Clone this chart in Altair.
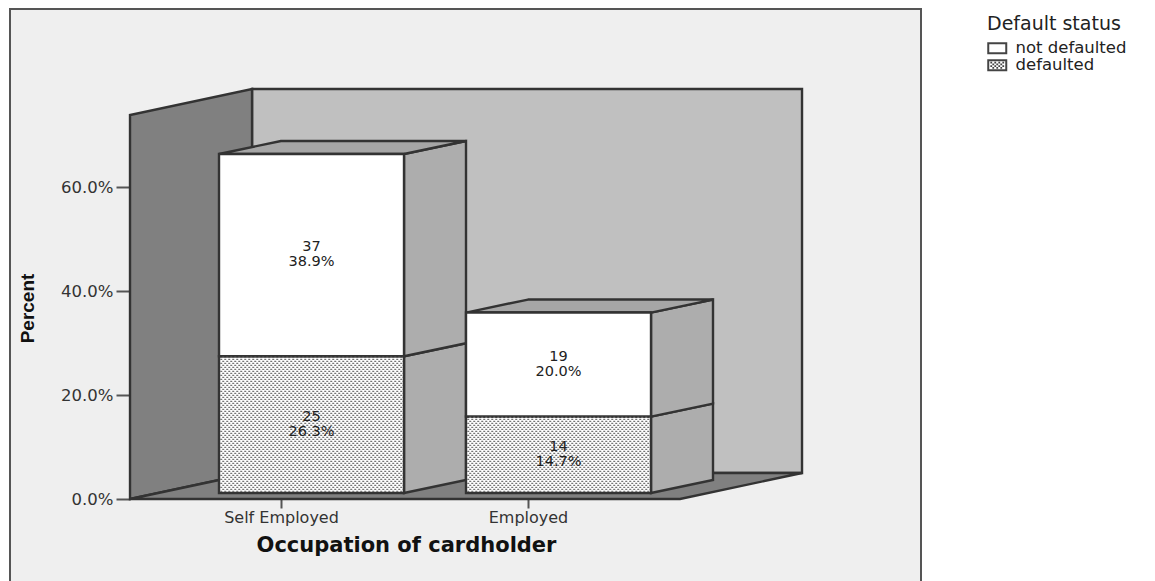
import altair as alt
import numpy as np
import pandas as pd

categories = ["Self Employed", "Employed"]
defaulted_pct = [26.3, 14.7]
not_defaulted_pct = [38.9, 20.0]
defaulted_n = [25, 14]
not_defaulted_n = [37, 19]
y_ticks = [0, 20, 40, 60]
x_ticks = [0.5, 1.5]
bar_left = [0.2490, 1.2490]
status = ["not defaulted", "defaulted"]

# Scene description, in axis units (x: categories, y: percent)
BAR_W = 0.749
BAR_DX, BAR_DY = 0.251, 2.5
BASE = 1.154
FLOOR_L, FLOOR_R = -0.1113, 2.1154
WALL_DX, WALL_DY = 0.494, 5.0
WALL_TOP = 73.85
WALL_COL, SIDE_COL, TOP_COL, BACK_COL = "#808080", "#adadad", "#a6a6a6", "#c0c0c0"
EDGE = "#333333"
EDGE_W = 2.4

vert, horiz, fronts, texts = [], [], [], []


def vq(name, x0, x1, lo0, hi0, lo1, hi1, col):
    vert.append(dict(id=name, x=x0, y=lo0, y2=hi0, c=col))
    vert.append(dict(id=name, x=x1, y=lo1, y2=hi1, c=col))


def hq(name, y0, y1, x00, x01, x10, x11, col):
    horiz.append(dict(id=name, y=y0, x=x00, x2=x01, c=col))
    horiz.append(dict(id=name, y=y1, x=x10, x2=x11, c=col))


vq("wall", FLOOR_L, FLOOR_L + WALL_DX, 0, WALL_TOP, WALL_DY, WALL_TOP + WALL_DY, WALL_COL)
hq("floor", 0, WALL_DY, FLOOR_L, FLOOR_R, FLOOR_L + WALL_DX, FLOOR_R + WALL_DX, WALL_COL)

for i in range(2):
    l, r = bar_left[i], bar_left[i] + BAR_W
    y0 = BASE
    y1 = y0 + defaulted_pct[i]
    y2 = y1 + not_defaulted_pct[i]
    vq(f"s{i}a", r, r + BAR_DX, y0, y1, y0 + BAR_DY, y1 + BAR_DY, SIDE_COL)
    vq(f"s{i}b", r, r + BAR_DX, y1, y2, y1 + BAR_DY, y2 + BAR_DY, SIDE_COL)
    hq(f"t{i}", y2, y2 + BAR_DY, l, r, l + BAR_DX, r + BAR_DX, TOP_COL)
    fronts.append(dict(x=l, x2=r, y=y0, y2=y1, status=status[1]))
    fronts.append(dict(x=l, x2=r, y=y1, y2=y2, status=status[0]))
    texts.append(dict(x=(l + r) / 2, y=(y0 + y1) / 2, n=str(defaulted_n[i]), p=f"{defaulted_pct[i]:.1f}%"))
    texts.append(dict(x=(l + r) / 2, y=(y1 + y2) / 2, n=str(not_defaulted_n[i]), p=f"{not_defaulted_pct[i]:.1f}%"))

# stipple texture of the "defaulted" segments: dashed rows
rows = []
for f in fronts:
    if f["status"] == status[1]:
        for j, yy in enumerate(np.arange(f["y"] + 0.3, f["y2"] - 0.1, 2 / 5.2)):
            rows.append(dict(x=f["x"] + 0.005, x2=f["x2"] - 0.005, y=float(yy), odd=j % 2))
rows = pd.DataFrame(rows)


# Legend swatches (symbol box is -1..1 = 12 px): frame, the second with stipple dots inside
def px(v):
    return f"{v / 6:.3f}"


FRAME = (
    f"M{px(-8)},-1H{px(12)}V1H{px(-8)}Z"
    f"M{px(-6)},{px(-4)}V{px(4)}H{px(10)}V{px(-4)}Z"
)
dots = ""
for k, dy in enumerate([-2.7, -0.9, 0.9, 2.7]):
    for dx in ([-4, 0, 4, 8] if k % 2 == 0 else [-2, 2, 6]):
        dots += (
            f"M{px(dx - 0.9)},{px(dy - 0.9)}H{px(dx + 0.9)}"
            f"V{px(dy + 0.9)}H{px(dx - 0.9)}Z"
        )
SWATCHES = [FRAME, FRAME + dots]

xs = alt.Scale(domain=[-0.5972, 3.0911], nice=False, zero=False)
ys = alt.Scale(domain=[-15.96, 94.231], nice=False, zero=False)
FONT = "DejaVu Sans"

x_axis = alt.Axis(
    values=x_ticks, title="Occupation of cardholder", grid=False, domain=False, offset=-83,
    labelExpr=f"datum.value < 1 ? '{categories[0]}' : '{categories[1]}'",
    tickSize=9, tickWidth=2, tickColor="#555555", labelPadding=1,
    labelFont=FONT, labelFontSize=16, labelColor="#333333",
    titleFont=FONT, titleFontSize=21, titleFontWeight="bold", titleColor="#111111",
    titleX=396, titleY=46, titleBaseline="middle", titleAnchor="middle", titleAlign="center",
)
y_axis = alt.Axis(
    values=y_ticks, title="Percent", grid=False, domain=False, offset=-120,
    labelExpr="format(datum.value, '.1f') + '%'",
    tickSize=14, tickWidth=2, tickColor="#555555", labelPadding=3,
    labelFont=FONT, labelFontSize=16.5, labelColor="#333333",
    titleFont="Liberation Sans", titleFontSize=19, titleFontWeight="bold", titleColor="#111111",
    titleX=-103, titleY=299, titleAngle=270, titleBaseline="middle", titleAlign="center",
)
X = alt.X("x:Q", scale=xs, axis=x_axis)
Y = alt.Y("y:Q", scale=ys, axis=y_axis)

back = alt.Chart(pd.DataFrame([dict(
    x=FLOOR_L + WALL_DX, x2=FLOOR_R + WALL_DX, y=WALL_DY, y2=WALL_TOP + WALL_DY
)])).mark_rect(fill=BACK_COL, stroke=EDGE, strokeWidth=EDGE_W).encode(x=X, x2="x2:Q", y=Y, y2="y2:Q")

vdf = pd.DataFrame(vert)
hdf = pd.DataFrame(horiz)
wall_v = alt.Chart(vdf).mark_area(stroke=EDGE, strokeWidth=EDGE_W).encode(
    x=X, y=Y, y2="y2:Q", detail="id:N", fill=alt.Fill("c:N", scale=None)
)
wall_h = alt.Chart(hdf).mark_area(stroke=EDGE, strokeWidth=EDGE_W, orient="horizontal").encode(
    y=Y, x=X, x2="x2:Q", detail="id:N", fill=alt.Fill("c:N", scale=None)
)
wall_l = wall_v.transform_filter("datum.id == 'wall'")
floor = wall_h.transform_filter("datum.id == 'floor'")
sides = wall_v.transform_filter("datum.id != 'wall'")
tops = wall_h.transform_filter("datum.id != 'floor'")

fdf = pd.DataFrame(fronts)
front = alt.Chart(fdf).mark_rect(fill="#ffffff", stroke=EDGE, strokeWidth=EDGE_W).encode(
    x=X, x2="x2:Q", y=Y, y2="y2:Q"
)

# invisible points that carry the legend
legend_keys = alt.Chart(fdf).mark_point(filled=True, opacity=0, fill="#444444", strokeWidth=0, size=10).encode(
    x=X, y=Y,
    shape=alt.Shape(
        "status:N",
        scale=alt.Scale(domain=status, range=SWATCHES),
        legend=alt.Legend(
            orient="none", legendX=977, legendY=6, title="Default status",
            titleFont=FONT, titleFontSize=19, titleFontWeight="normal", titleColor="#222222",
            labelFont=FONT, labelFontSize=16.5, labelColor="#222222", titlePadding=6,
            symbolSize=144, symbolFillColor="#444444", symbolStrokeWidth=0, symbolOpacity=1,
            labelOffset=12, rowPadding=0,
        ),
    ),
)

stip_even = alt.Chart(rows[rows.odd == 0]).mark_rule(
    color="#757575", strokeWidth=1.25, strokeDash=[2, 2]
).encode(x=X, x2="x2:Q", y=Y)
stip_odd = alt.Chart(rows[rows.odd == 1]).mark_rule(
    color="#757575", strokeWidth=1.25, strokeDash=[2, 2], strokeDashOffset=2
).encode(x=X, x2="x2:Q", y=Y)

tdf = pd.DataFrame(texts)
label_n = alt.Chart(tdf).mark_text(font=FONT, fontSize=14.5, color="#222222", dy=-8).encode(x=X, y=Y, text="n:N")
label_p = alt.Chart(tdf).mark_text(font=FONT, fontSize=14.5, color="#222222", dy=7).encode(x=X, y=Y, text="p:N")

chart = alt.layer(
    back, wall_l, floor, sides, tops, front, stip_even, stip_odd, legend_keys, label_n, label_p
).properties(
    width=911, height=573,
    padding={"left": 2, "top": 1, "right": 226, "bottom": 0},
    autosize=alt.AutoSizeParams(type="none"),
    background="#ffffff",
).configure_view(fill="#efefef", stroke="#555555", strokeWidth=2)

chart.save("out.html", embed_options={"renderer": "svg", "actions": False})
